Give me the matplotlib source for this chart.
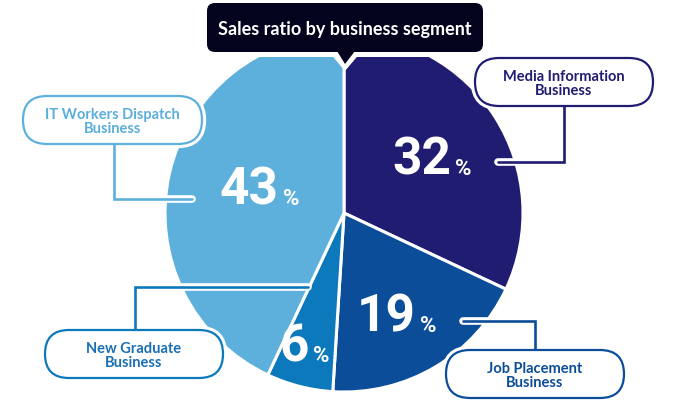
import matplotlib.pyplot as plt
from matplotlib.patches import FancyBboxPatch, Polygon
import matplotlib.patheffects as pe

# ---- data ----
segments = ["Media Information\nBusiness", "Job Placement\nBusiness",
            "New Graduate\nBusiness", "IT Workers Dispatch\nBusiness"]
shares = [32, 19, 6, 43]
colors = ["#201c71", "#0b4d98", "#0c79bd", "#5db0dc"]
text_colors = ["#201c71", "#0b4d98", "#1a6fb2", "#5aaedb"]
title = "Sales ratio by business segment"

# ---- layout (pixel coordinates, y downwards) ----
W, H = 688, 406
cx, cy, r = 344, 214, 179
pct_pos = [(451, 175), (416, 332), (309, 362), (279, 205)]   # right edge of number, baseline
boxes = [(475, 59, 653, 107), (446, 351, 624, 399), (45, 331, 223, 379), (23, 97, 202, 145)]
connectors = [
    [(564, 107), (564, 163), (498, 163)],
    [(535, 351), (535, 322), (463, 322)],
    [(135, 331), (135, 288), (308, 288)],
    [(114, 145), (114, 200), (192, 200)],
]

LABEL_FONT = ["Lato", "DejaVu Sans"]
NUM_FONT = ["Roboto", "DejaVu Sans"]

fig = plt.figure(figsize=(W / 100, H / 100), dpi=100)
ax = fig.add_axes([0, 0, 1, 1])
ax.pie(shares, colors=colors, startangle=-90, counterclock=True,
       center=(cx, cy), radius=r,
       wedgeprops=dict(edgecolor="white", linewidth=2.2))
ax.set_xlim(0, W)
ax.set_ylim(H, 0)
ax.set_aspect("equal")
ax.axis("off")

# percentages
for val, (px, py) in zip(shares, pct_pos):
    ax.text(px, py, f"{val}", color="white", fontsize=37, fontweight="bold",
            family=NUM_FONT, ha="right", va="baseline", zorder=6)
    ax.text(px + 4, py, "%", color="white", fontsize=16, fontweight="bold",
            family=NUM_FONT, ha="left", va="baseline", zorder=6)

# title box with halo
ax.add_patch(FancyBboxPatch((201, -2), 288, 60, boxstyle="round,pad=0,rounding_size=12",
                            fc="white", ec="none", zorder=3))
ax.add_patch(Polygon([(329, 53), (361, 53), (345, 72)], closed=True, fc="white", ec="none", zorder=3))
ax.add_patch(FancyBboxPatch((207, 4), 276, 49, boxstyle="round,pad=0,rounding_size=8",
                            fc="#03031d", ec="none", zorder=4))
ax.add_patch(Polygon([(337, 52), (355, 52), (345, 65)], closed=True, fc="#03031d", ec="none", zorder=4))
ax.text(345, 29, title, color="white", fontsize=13, fontweight="bold",
        family=LABEL_FONT, ha="center", va="center", zorder=5)

# label boxes
for (x0, y0, x1, y1), col, tcol, lab, pts in zip(boxes, colors, text_colors, segments, connectors):
    h = y1 - y0
    ax.add_patch(FancyBboxPatch((x0, y0), x1 - x0, h,
                                boxstyle=f"round,pad=0,rounding_size={h/2}",
                                fc="white", ec="white", lw=6, zorder=3))
    xs, ys = zip(*pts)
    ax.plot(xs, ys, color=col, lw=1.9, solid_capstyle="round", solid_joinstyle="miter", zorder=4,
            path_effects=[pe.Stroke(linewidth=5.5, foreground="white", capstyle="round"), pe.Normal()])
    ax.add_patch(FancyBboxPatch((x0, y0), x1 - x0, h,
                                boxstyle=f"round,pad=0,rounding_size={h/2}",
                                fc="white", ec=col, lw=1.6, zorder=5))
    ax.text((x0 + x1) / 2, (y0 + y1) / 2 + 1, lab, color=tcol, fontsize=10.5, fontweight="bold",
            family=LABEL_FONT, ha="center", va="center", linespacing=1.05, zorder=6)

fig.savefig("out.png", dpi=100)
